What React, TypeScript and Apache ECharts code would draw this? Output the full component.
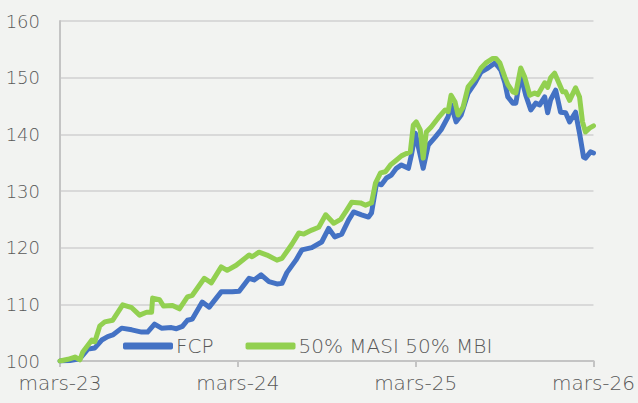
import React, { useEffect, useRef } from "react";
import * as echarts from "echarts";

// x = months since mars-23
const xTickLabels = ["mars-23", "mars-24", "mars-25", "mars-26"];

const fcpMonths = [0, 0.67, 1.34, 1.88, 2.35, 2.82, 3.22, 3.56, 4.16, 4.84, 5.51, 5.91, 6.38, 6.85, 7.52, 7.86, 8.26, 8.6, 8.93, 9.6, 10.07, 10.88, 11.62, 12.09, 12.76, 13.1, 13.57, 14.1, 14.64, 14.98, 15.31, 15.92, 16.32, 16.99, 17.66, 18.13, 18.54, 19.01, 19.48, 19.81, 20.35, 20.82, 21.02, 21.36, 21.69, 22.03, 22.36, 22.7, 23.04, 23.51, 23.71, 23.98, 24.18, 24.51, 24.85, 25.32, 25.72, 26.19, 26.39, 26.73, 27.07, 27.54, 28.01, 28.41, 28.88, 29.35, 29.55, 29.75, 30.02, 30.22, 30.56, 30.76, 31.09, 31.43, 31.77, 32.1, 32.37, 32.71, 32.91, 33.11, 33.45, 33.78, 34.12, 34.39, 34.79, 35.06, 35.33, 35.46, 35.8, 36];
const fcpValues = [100.0, 100.1, 100.4, 102.1, 102.3, 103.7, 104.3, 104.6, 105.8, 105.5, 105.1, 105.1, 106.5, 105.8, 105.9, 105.7, 106.1, 107.2, 107.4, 110.4, 109.5, 112.2, 112.2, 112.3, 114.6, 114.3, 115.2, 114.0, 113.6, 113.7, 115.6, 117.8, 119.6, 120.0, 121.0, 123.4, 121.9, 122.4, 124.9, 126.3, 125.8, 125.4, 126.1, 131.4, 131.1, 132.3, 132.8, 134.0, 134.6, 134.0, 136.3, 140.2, 137.8, 134.0, 138.1, 139.5, 140.8, 143.1, 145.2, 142.2, 143.4, 147.3, 149.1, 151.0, 151.7, 152.6, 152.0, 151.3, 149.1, 146.6, 145.5, 145.5, 150.5, 146.9, 144.3, 145.5, 145.2, 146.6, 143.8, 146.1, 147.8, 143.9, 143.8, 142.2, 143.9, 140.2, 136.0, 135.8, 136.9, 136.7];

const benchMonths = [0, 0.54, 1.01, 1.34, 1.54, 2.15, 2.35, 2.69, 3.02, 3.56, 4.23, 4.84, 5.37, 5.84, 6.18, 6.25, 6.72, 6.98, 7.59, 8.06, 8.6, 8.93, 9.74, 10.21, 10.88, 11.28, 11.89, 12.76, 12.96, 13.43, 13.97, 14.64, 14.98, 15.65, 16.12, 16.45, 16.99, 17.46, 17.93, 18.47, 18.94, 19.34, 19.68, 20.28, 20.62, 21.02, 21.29, 21.63, 21.96, 22.3, 22.63, 23.04, 23.37, 23.64, 23.84, 24.04, 24.31, 24.51, 24.72, 25.05, 25.52, 25.99, 26.19, 26.39, 26.66, 26.86, 27.2, 27.54, 28.01, 28.41, 28.74, 29.21, 29.42, 29.68, 30.02, 30.22, 30.56, 30.76, 31.09, 31.36, 31.7, 32.03, 32.24, 32.71, 32.91, 33.11, 33.38, 33.58, 33.92, 34.12, 34.39, 34.79, 35.06, 35.26, 35.46, 35.73, 36];
const benchValues = [100.0, 100.3, 100.7, 100.2, 101.6, 103.7, 103.4, 106.2, 106.9, 107.2, 109.9, 109.4, 108.1, 108.6, 108.6, 111.1, 110.8, 109.7, 109.8, 109.2, 111.3, 111.6, 114.6, 113.8, 116.6, 116.0, 116.9, 118.7, 118.4, 119.2, 118.7, 117.8, 118.1, 120.6, 122.6, 122.4, 123.1, 123.6, 125.8, 124.3, 125.0, 126.6, 128.0, 127.9, 127.5, 127.9, 131.4, 133.2, 133.4, 134.6, 135.3, 136.2, 136.6, 136.9, 141.6, 142.2, 140.8, 135.8, 140.4, 141.3, 142.9, 144.3, 144.0, 146.9, 145.7, 143.4, 144.8, 148.4, 149.9, 151.7, 152.6, 153.4, 153.4, 152.6, 150.1, 148.8, 147.5, 147.3, 151.7, 150.1, 146.9, 147.3, 147.0, 149.1, 148.3, 150.0, 150.8, 149.6, 147.5, 147.5, 146.0, 148.2, 146.6, 142.2, 140.4, 141.1, 141.5];

const seriesNames = ["FCP", "50% MASI 50% MBI"];
const FONT = "'DejaVu Sans', sans-serif";
const WEIGHT = 200;
const TEXT = "#595959";

export default function App() {
  const ref = useRef<HTMLDivElement>(null);
  useEffect(() => {
    if (!ref.current) return;
    const chart = echarts.init(ref.current, undefined, { renderer: "svg" });
    const pair = (xs: number[], ys: number[]) => xs.map((x, i) => [x, ys[i]]);
    chart.setOption({
      animation: false,
      backgroundColor: "#f2f3f1",
      grid: { left: 60, right: 41, top: 21, bottom: 42 },
      legend: {
        data: seriesNames,
        left: 118,
        top: 331,
        icon: "roundRect",
        itemWidth: 50,
        itemHeight: 7,
        itemGap: 32,
        textStyle: { fontFamily: FONT, fontWeight: WEIGHT, fontSize: 20, color: TEXT, padding: [0, 0, 0, -2] },
        backgroundColor: "transparent",
      },
      xAxis: {
        type: "value",
        min: 0,
        max: 36,
        interval: 12,
        axisLine: { show: true, lineStyle: { color: "#c4c4c4", width: 2 } },
        axisTick: { show: true, length: 6, lineStyle: { color: "#c4c4c4", width: 2 } },
        splitLine: { show: false },
        axisLabel: {
          fontFamily: FONT,
          fontWeight: WEIGHT,
          fontSize: 20,
          color: TEXT,
          margin: 12,
          formatter: (v: number) => xTickLabels[Math.round(v / 12)] ?? "",
        },
      },
      yAxis: {
        type: "value",
        min: 100,
        max: 160,
        interval: 10,
        axisLine: { show: true, lineStyle: { color: "#c4c4c4", width: 2 } },
        axisTick: { show: false },
        splitLine: { lineStyle: { color: "#d9d9d9", width: 2 } },
        axisLabel: { fontFamily: FONT, fontWeight: WEIGHT, fontSize: 18, color: TEXT, margin: 20 },
      },
      series: [
        {
          name: seriesNames[0],
          type: "line",
          data: pair(fcpMonths, fcpValues),
          showSymbol: false,
          symbol: "none",
          lineStyle: { color: "#4472c4", width: 5, cap: "round", join: "round" },
          itemStyle: { color: "#4472c4" },
          z: 2,
        },
        {
          name: seriesNames[1],
          type: "line",
          data: pair(benchMonths, benchValues),
          showSymbol: false,
          symbol: "none",
          lineStyle: { color: "#92d050", width: 5, cap: "round", join: "round" },
          itemStyle: { color: "#92d050" },
          z: 3,
        },
      ],
    });
    return () => chart.dispose();
  }, []);
  return (
    <div
      ref={ref}
      style={{ position: "absolute", left: 0, top: 0, width: 638, height: 403 }}
    />
  );
}
